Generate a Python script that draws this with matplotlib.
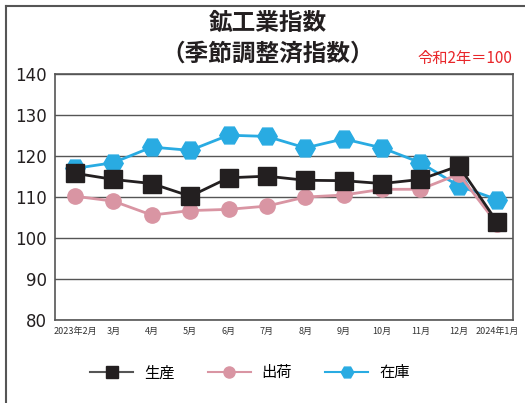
import matplotlib
matplotlib.use("Agg")
import matplotlib.pyplot as plt
from matplotlib.lines import Line2D

plt.rcParams['font.family'] = ['Noto Sans CJK JP', 'DejaVu Sans']

# 月
months = ['2023年2月', '3月', '4月', '5月', '6月', '7月', '8月', '9月',
          '10月', '11月', '12月', '2024年1月']

# 鉱工業指数（季節調整済、令和2年=100）
seisan = [115.8, 114.3, 113.3, 110.2, 114.7, 115.1, 114.1, 114.0, 113.3, 114.3, 117.6, 103.9]
shukka = [110.2, 109.0, 105.6, 106.7, 107.0, 107.8, 110.0, 110.5, 111.9, 111.9, 115.6, 103.4]
zaiko = [117.0, 118.4, 122.2, 121.4, 125.1, 124.8, 122.0, 124.2, 122.0, 118.4, 112.7, 109.4]

c_seisan = '#231f20'
c_shukka = '#d995a3'
c_zaiko = '#29abe2'

fig = plt.figure(figsize=(5.25, 4.03), dpi=100)
ax = fig.add_axes([0.105, 0.206, 0.872, 0.61])

x = list(range(len(months)))
ax.plot(x, zaiko, color=c_zaiko, lw=2, marker='H', ms=14, zorder=3)
ax.plot(x, shukka, color=c_shukka, lw=2, marker='o', ms=11, zorder=4)
ax.plot(x, seisan, color=c_seisan, lw=2, marker='s', ms=13, zorder=5)

ax.set_xlim(-0.52, 11.41)
ax.set_ylim(80, 140)
ax.set_yticks(range(80, 141, 10))
ax.grid(axis='y', color='#555555', lw=1)
ax.set_axisbelow(True)
for s in ax.spines.values():
    s.set_color('#555555')
    s.set_linewidth(1.2)
ax.tick_params(axis='y', length=0, labelsize=12, pad=6, labelcolor='#231f20')
ax.set_yticklabels([str(v) for v in range(80, 141, 10)], family='DejaVu Sans')
ax.set_xticks(x)
ax.set_xticklabels(months, fontsize=6.5, color='#333333')
ax.tick_params(axis='x', length=0, pad=5)

fig.text(0.51, 0.943, '鉱工業指数', ha='center', va='center', fontsize=17, fontweight='bold', color='#231f20')
fig.text(0.51, 0.867, '（季節調整済指数）', ha='center', va='center', fontsize=17, fontweight='bold', color='#231f20')
fig.text(0.885, 0.855, '令和2年＝100', ha='center', va='center', fontsize=11, color='#e8262a')

handles = [
    Line2D([], [], color='#555555', lw=1.5, marker='s', ms=8, mfc=c_seisan, mec=c_seisan),
    Line2D([], [], color=c_shukka, lw=1.5, marker='o', ms=8, mfc=c_shukka, mec=c_shukka),
    Line2D([], [], color=c_zaiko, lw=1.5, marker='H', ms=9, mfc=c_zaiko, mec=c_zaiko),
]
fig.legend(handles, ['生産', '出荷', '在庫'], loc='center', bbox_to_anchor=(0.476, 0.075),
           ncol=3, frameon=False, fontsize=11, handlelength=2.8, columnspacing=2.2,
           handletextpad=0.7)

# 外枠（左と上）
fig.add_artist(Line2D([0.012, 0.012], [0, 0.985], color='#555555', lw=1.5, transform=fig.transFigure))
fig.add_artist(Line2D([0.012, 1.0], [0.985, 0.985], color='#555555', lw=1.5, transform=fig.transFigure))

fig.savefig('out.png', dpi=100)
